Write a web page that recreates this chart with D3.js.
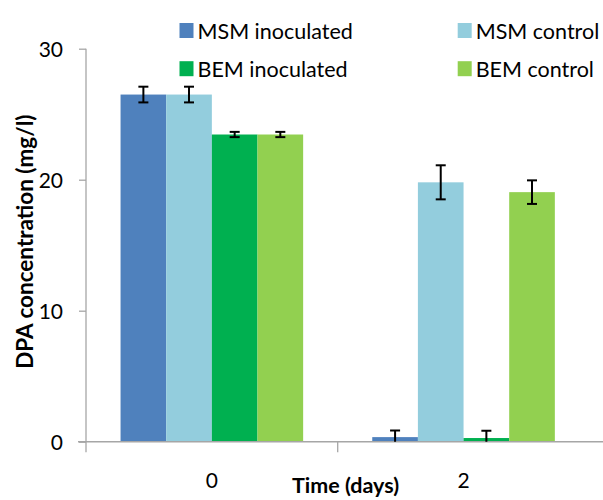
<!DOCTYPE html>
<html>
<head>
<meta charset="utf-8">
<script src="https://cdn.jsdelivr.net/npm/d3@7"></script>
<style>
  html, body { margin: 0; padding: 0; background: #fff; }
  svg { display: block; }
  text { font-family: Lato, "Open Sans", sans-serif; fill: #000; }
</style>
</head>
<body>
<svg id="chart" width="603" height="500"></svg>
<script>
// ---- data ----
const categories = ["0", "2"];
const seriesNames = ["MSM inoculated", "MSM control", "BEM inoculated", "BEM control"];
const seriesColors = ["#4F81BD", "#93CDDD", "#00B050", "#92D050"];
const msmInoculated = [26.5, 0.35];
const msmControl = [26.5, 19.8];
const bemInoculated = [23.45, 0.28];
const bemControl = [23.45, 19.05];
const msmInoculatedErr = [0.6, 0.5];
const msmControlErr = [0.6, 1.3];
const bemInoculatedErr = [0.2, 0.55];
const bemControlErr = [0.2, 0.9];
const yTicks = [0, 10, 20, 30];

const values = [msmInoculated, msmControl, bemInoculated, bemControl];
const errors = [msmInoculatedErr, msmControlErr, bemInoculatedErr, bemControlErr];

const svg = d3.select("#chart");
const pL = 86, pR = 589.4, pT = 48.7, pB = 441.7;

const x0 = d3.scaleBand().domain(categories).range([pL, pR]).paddingInner(0).paddingOuter(0);
const x1 = d3.scaleBand().domain(seriesNames).range([0, x0.bandwidth()]).paddingInner(0).paddingOuter(0.757);
const y = d3.scaleLinear().domain([0, 30]).range([pB, pT]);

const axisColor = "#a6a6a6";

// clip for plot area
svg.append("defs").append("clipPath").attr("id", "plotclip")
  .append("rect").attr("x", pL).attr("y", 0).attr("width", 603 - pL).attr("height", pB);

// bars
const rows = [];
categories.forEach((c, ci) => {
  seriesNames.forEach((s, si) => {
    rows.push({cat: c, series: s, value: values[si][ci], err: errors[si][ci], color: seriesColors[si]});
  });
});

const gBars = svg.append("g");
gBars.selectAll("rect").data(rows).join("rect")
  .attr("x", d => x0(d.cat) + x1(d.series))
  .attr("width", x1.bandwidth())
  .attr("y", d => y(d.value))
  .attr("height", d => y(0) - y(d.value))
  .attr("fill", d => d.color);

// axes
const yAxis = d3.axisLeft(y).tickValues(yTicks).tickSize(7).tickPadding(16);
const gy = svg.append("g").attr("transform", `translate(${pL},0)`).call(yAxis);
gy.select(".domain").remove();
gy.selectAll(".tick line").attr("stroke", axisColor).attr("stroke-width", 1.3);
gy.selectAll(".tick text").attr("font-size", 21).attr("fill", "#000").attr("font-family", "Lato, sans-serif").attr("dy", "0.35em");
svg.append("line").attr("x1", pL).attr("x2", pL).attr("y1", pT).attr("y2", pB + 10.5)
  .attr("stroke", axisColor).attr("stroke-width", 1.3);

// x axis line
svg.append("line").attr("x1", pL - 8).attr("x2", 603).attr("y1", pB).attr("y2", pB)
  .attr("stroke", axisColor).attr("stroke-width", 1.6);
// category boundary ticks
svg.append("g").selectAll("line").data(categories.slice(1)).join("line")
  .attr("x1", d => x0(d)).attr("x2", d => x0(d))
  .attr("y1", pB).attr("y2", pB + 10.5)
  .attr("stroke", axisColor).attr("stroke-width", 1.3);
// category labels
svg.append("g").selectAll("text").data(categories).join("text")
  .attr("x", d => x0(d) + x0.bandwidth() / 2)
  .attr("y", 479.5)
  .attr("text-anchor", "middle")
  .attr("dominant-baseline", "central")
  .attr("font-size", 21)
  .text(d => d);

// error bars
const gErr = svg.append("g").attr("clip-path", "url(#plotclip)");
const cap = 5;
rows.forEach(d => {
  const cx = x0(d.cat) + x1(d.series) + x1.bandwidth() / 2;
  const y1 = y(d.value + d.err), y2 = y(d.value - d.err);
  gErr.append("line").attr("x1", cx).attr("x2", cx).attr("y1", y1).attr("y2", y2)
    .attr("stroke", "#000").attr("stroke-width", 2);
  gErr.append("line").attr("x1", cx - cap).attr("x2", cx + cap).attr("y1", y1).attr("y2", y1)
    .attr("stroke", "#000").attr("stroke-width", 2);
  gErr.append("line").attr("x1", cx - cap).attr("x2", cx + cap).attr("y1", y2).attr("y2", y2)
    .attr("stroke", "#000").attr("stroke-width", 2);
});

// axis titles
svg.append("text")
  .attr("transform", `translate(24, 241.7) rotate(-90)`)
  .attr("text-anchor", "middle")
  .attr("dominant-baseline", "central")
  .attr("font-size", 22.5)
  .attr("font-weight", "bold")
  .text("DPA concentration (mg/l)");
svg.append("text")
  .attr("x", 345.5)
  .attr("y", 493)
  .attr("text-anchor", "middle")
  .attr("font-size", 21.5)
  .attr("font-weight", "bold")
  .text("Time (days)");

// legend
const legendPos = [[179.5, 30.5], [457.7, 30.5], [179.5, 68.7], [457.7, 68.7]];
const gLeg = svg.append("g");
seriesNames.forEach((s, i) => {
  const [lx, ly] = legendPos[i];
  gLeg.append("rect").attr("x", lx).attr("y", ly - 7.5).attr("width", 14).attr("height", 15)
    .attr("fill", seriesColors[i]);
  gLeg.append("text").attr("x", lx + 18).attr("y", ly)
    .attr("dominant-baseline", "central")
    .attr("font-size", 21.5)
    .text(s);
});
</script>
</body>
</html>
